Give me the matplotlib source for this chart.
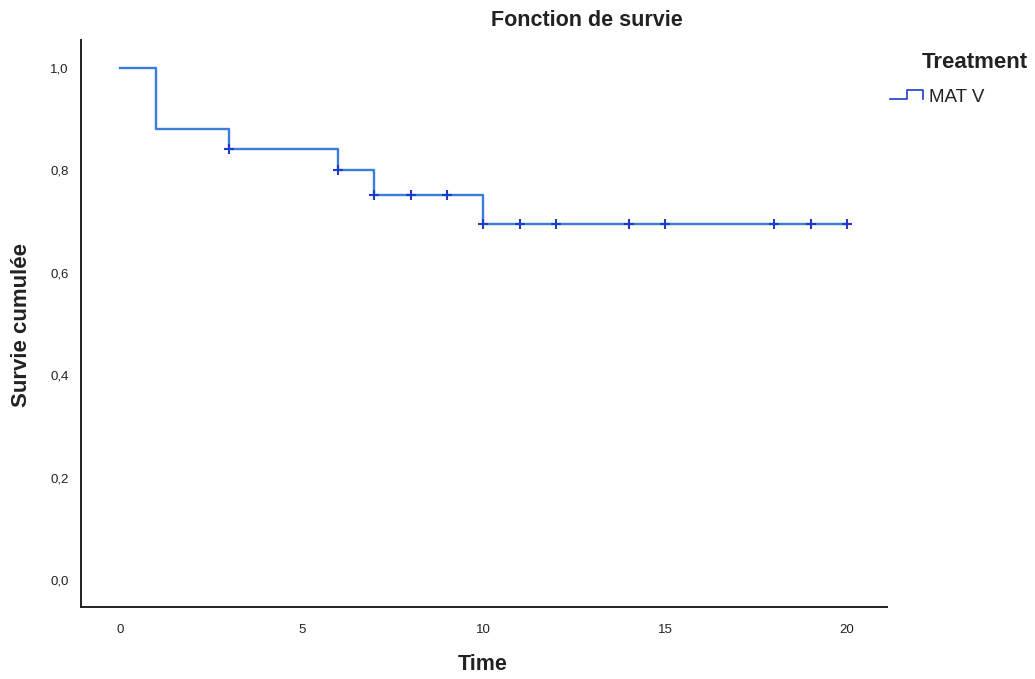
import matplotlib
matplotlib.use("Agg")
import matplotlib.pyplot as plt
from matplotlib.lines import Line2D
from matplotlib.ticker import FuncFormatter

plt.rcParams['font.family'] = ['Liberation Sans', 'DejaVu Sans']

# Kaplan-Meier step data
step_times = [0, 1, 3, 6, 7, 10, 20]
step_surv = [1.0, 0.882, 0.842, 0.801, 0.752, 0.695, 0.695]
censor_times = [3, 6, 7, 8, 9, 10, 11, 12, 14, 15, 18, 19, 20]
censor_surv = [0.842, 0.801, 0.752, 0.752, 0.752, 0.695, 0.695, 0.695, 0.695, 0.695, 0.695, 0.695, 0.695]
x_ticks = [0, 5, 10, 15, 20]
y_ticks = [0.0, 0.2, 0.4, 0.6, 0.8, 1.0]
series_name = "MAT V"

line_color = "#3b7ddd"
mark_color = "#1c3dcc"

fig = plt.figure(figsize=(10.35, 6.79), dpi=100)
ax = fig.add_axes([81/1035, 1-607/679, (887-81)/1035, (607-40)/679])

ax.step(step_times, step_surv, where='post', color=line_color, lw=1.7)
ax.plot(censor_times, censor_surv, ls='none', marker='+', ms=7.5, mew=1.5, color=mark_color)

ax.set_xlim(-1.07, 21.1)
ax.set_ylim(-0.053, 1.055)
ax.set_xticks(x_ticks)
ax.set_yticks(y_ticks)
ax.yaxis.set_major_formatter(FuncFormatter(lambda v, p: f"{v:.1f}".replace('.', ',')))
ax.tick_params(length=0, labelsize=9.5, colors='#222222')
ax.tick_params(axis='x', pad=12)
ax.tick_params(axis='y', pad=9)
for s in ['top', 'right']:
    ax.spines[s].set_visible(False)
for s in ['left', 'bottom']:
    ax.spines[s].set_linewidth(1.4)
    ax.spines[s].set_color('#222222')

fig.text(587/1035, 1-21/679, "Fonction de survie", ha='center', va='center', fontsize=15.5, fontweight='bold', color='#222222')
fig.text(22/1035, 1-325/679, "Survie cumulée", ha='center', va='center', rotation=90, fontsize=16, fontweight='bold', color='#222222')
fig.text(483/1035, 1-665/679, "Time", ha='center', va='center', fontsize=15.5, fontweight='bold', color='#222222')

# Legend
fig.text(1028/1035, 1-62/679, "Treatment", ha='right', va='center', fontsize=16, fontweight='bold', color='#222222')
lx = [890, 907, 907, 923, 923]
ly = [99, 99, 90, 90, 99]
fig.add_artist(Line2D([v/1035 for v in lx], [1-v/679 for v in ly], color=mark_color, lw=1.2, transform=fig.transFigure))
fig.text(929/1035, 1-97/679, series_name, ha='left', va='center', fontsize=13.5, color='#222222')

fig.savefig("out.png", dpi=100)
